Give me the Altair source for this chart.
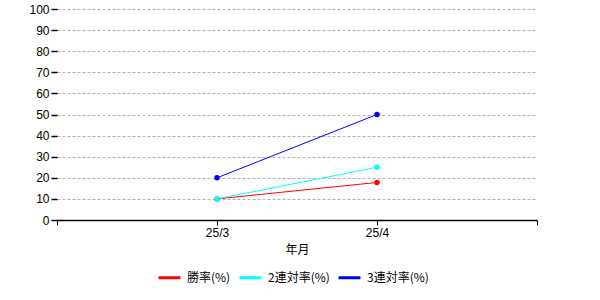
import altair as alt
import pandas as pd

months = ["25/3", "25/4"]
month_pos = [1, 2]
series_names = ["勝率(%)", "2連対率(%)", "3連対率(%)"]
win_rate = [10, 17.8]
top2_rate = [10, 25]
top3_rate = [20, 50]
colors = ["#FF0000", "#00FFFF", "#0000FF"]

rows = []
for name, vals in zip(series_names, [win_rate, top2_rate, top3_rate]):
    for m, p, v in zip(months, month_pos, vals):
        rows.append({"series": name, "month": m, "pos": p, "value": v})
df = pd.DataFrame(rows)

font = "Liberation Sans"
cjk = "Noto Sans CJK JP"

x = alt.X(
    "pos:Q",
    scale=alt.Scale(domain=[0, 3], nice=False, zero=False),
    axis=alt.Axis(
        title="年月",
        values=[0, 1, 2, 3],
        labelExpr="datum.value == 1 ? '25/3' : datum.value == 2 ? '25/4' : ''",
        grid=False,
        domainColor="#000000",
        domainWidth=1.5,
        tickColor="#000000",
        tickSize=5,
        labelFont=font,
        labelFontSize=12,
        labelColor="#000000",
        labelPadding=2,
        labelOverlap=False,
        titleFont=cjk,
        titleFontSize=12,
        titleFontWeight="normal",
        titleColor="#000000",
        titlePadding=6,
    ),
)
y = alt.Y(
    "value:Q",
    scale=alt.Scale(domain=[0, 100], nice=False),
    axis=alt.Axis(
        title=None,
        values=[0, 10, 20, 30, 40, 50, 60, 70, 80, 90, 100],
        domain=False,
        grid=True,
        gridColor="#b0b0b0",
        gridDash=[3, 2],
        gridWidth=1,
        tickColor="#000000",
        tickSize=6,
        tickWidth=1.5,
        labelFont=font,
        labelFontSize=12,
        labelColor="#000000",
        labelPadding=2,
        labelOverlap=False,
        labelBound=False,
    ),
)
color = alt.Color(
    "series:N",
    scale=alt.Scale(domain=series_names, range=colors),
    legend=alt.Legend(
        title=None,
        orient="none",
        direction="horizontal",
        legendX=100,
        legendY=256,
        symbolType="stroke",
        symbolSize=480,
        symbolStrokeWidth=3,
        labelFont=cjk,
        labelFontSize=12,
        labelColor="#000000",
        columnPadding=2,
        labelOffset=5,
    ),
)

base = alt.Chart(df).encode(x=x, y=y, color=color, detail="series:N")
lines = base.mark_line(strokeWidth=1)
points = base.mark_circle(size=30, opacity=1)

chart = (
    alt.layer(lines, points)
    .properties(
        width=480,
        height=211,
        autosize=alt.AutoSizeParams(type="none"),
        padding={"left": 57, "top": 9, "right": 63, "bottom": 80},
        background="#ffffff",
    )
    .configure_view(stroke=None)
)

chart.save("out.html", embed_options={"renderer": "svg", "actions": False})
